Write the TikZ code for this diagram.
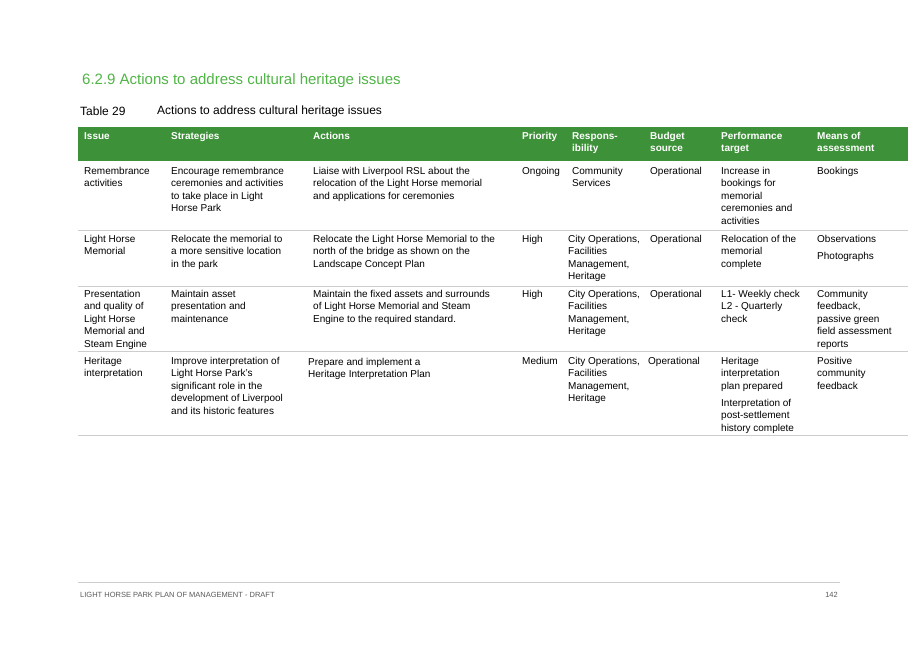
\documentclass[tikz,border=0pt]{standalone}
\usepackage{fontspec}
\setmainfont{Liberation Sans}
\definecolor{hgreen}{RGB}{61,145,56}
\definecolor{tgreen}{RGB}{80,180,70}
\definecolor{rule}{RGB}{205,205,205}
\begin{document}
\begin{tikzpicture}[x=1pt,y=-1pt,
  cell/.style={anchor=north west,inner sep=0pt,align=left,font=\fontsize{10}{12.5}\selectfont},
  head/.style={cell,text=white,font=\fontsize{10}{12.5}\selectfont\bfseries},
  sep/.style={draw=rule,line width=0.6pt}]
\useasboundingbox (0,0) rectangle (917,648);
\node[anchor=west,inner sep=0pt,text=tgreen,font=\fontsize{15}{18}\selectfont] (title) at (82,81) {6.2.9 Actions to address cultural heritage issues};
\node[anchor=west,inner sep=0pt,font=\fontsize{12}{14}\selectfont] (tnum) at (80,111) {Table 29};
\node[anchor=west,inner sep=0pt,font=\fontsize{12}{14}\selectfont] (tcap) at (157,111) {Actions to address cultural heritage issues};
\fill[hgreen] (78,127) rectangle (908,161);
\node[head] (h1) at (84,132) {Issue};
\node[head] (h2) at (171,132) {Strategies};
\node[head] (h3) at (313,132) {Actions};
\node[head] (h4) at (522,132) {Priority};
\node[head] (h5) at (572,132) {Respons-\\ibility};
\node[head] (h6) at (650,132) {Budget\\source};
\node[head] (h7) at (721,132) {Performance\\target};
\node[head] (h8) at (817,132) {Means of\\assessment};
% row 1
\node[cell] (a1) at (84,167) {Remembrance\\activities};
\node[cell] (a2) at (171,167) {Encourage remembrance\\ceremonies and activities\\to take place in Light\\Horse Park};
\node[cell] (a3) at (313,167) {Liaise with Liverpool RSL about the\\relocation of the Light Horse memorial\\and applications for ceremonies};
\node[cell] (a4) at (522,167) {Ongoing};
\node[cell] (a5) at (572,167) {Community\\Services};
\node[cell] (a6) at (650,167) {Operational};
\node[cell] (a7) at (721,167) {Increase in\\bookings for\\memorial\\ceremonies and\\activities};
\node[cell] (a8) at (817,167) {Bookings};
\draw[sep] (78,230) -- (908,230);
% row 2
\node[cell] (b1) at (84,235) {Light Horse\\Memorial};
\node[cell] (b2) at (171,235) {Relocate the memorial to\\a more sensitive location\\in the park};
\node[cell] (b3) at (313,235) {Relocate the Light Horse Memorial to the\\north of the bridge as shown on the\\Landscape Concept Plan};
\node[cell] (b4) at (522,235) {High};
\node[cell] (b5) at (568,235) {City Operations,\\Facilities\\Management,\\Heritage};
\node[cell] (b6) at (650,235) {Operational};
\node[cell] (b7) at (721,235) {Relocation of the\\memorial\\complete};
\node[cell] (b8) at (817,235) {Observations\\[4.5pt]Photographs};
\draw[sep] (78,286) -- (908,286);
% row 3
\node[cell] (c1) at (84,290) {Presentation\\and quality of\\Light Horse\\Memorial and\\Steam Engine};
\node[cell] (c2) at (171,290) {Maintain asset\\presentation and\\maintenance};
\node[cell] (c3) at (313,290) {Maintain the fixed assets and surrounds\\of Light Horse Memorial and Steam\\Engine to the required standard.};
\node[cell] (c4) at (522,290) {High};
\node[cell] (c5) at (568,290) {City Operations,\\Facilities\\Management,\\Heritage};
\node[cell] (c6) at (650,290) {Operational};
\node[cell] (c7) at (721,290) {L1- Weekly check\\L2 - Quarterly\\check};
\node[cell] (c8) at (817,290) {Community\\feedback,\\passive green\\field assessment\\reports};
\draw[sep] (78,351) -- (908,351);
% row 4
\node[cell] (d1) at (84,357) {Heritage\\interpretation};
\node[cell] (d2) at (171,357) {Improve interpretation of\\Light Horse Park’s\\significant role in the\\development of Liverpool\\and its historic features};
\node[cell] (d3) at (308,358) {Prepare and implement a\\Heritage Interpretation Plan};
\node[cell] (d4) at (522,357) {Medium};
\node[cell] (d5) at (568,357) {City Operations,\\Facilities\\Management,\\Heritage};
\node[cell] (d6) at (648,357) {Operational};
\node[cell] (d7) at (721,357) {Heritage\\interpretation\\plan prepared\\[4.5pt]Interpretation of\\post-settlement\\history complete};
\node[cell] (d8) at (817,357) {Positive\\community\\feedback};
\draw[sep] (78,435) -- (908,435);
% footer
\draw[draw=rule,line width=0.8pt] (78,582) -- (840,582);
\node[anchor=west,inner sep=0pt,text=black!65,font=\fontsize{7.5}{9}\selectfont] (foot) at (80,595) {LIGHT HORSE PARK PLAN OF MANAGEMENT - DRAFT};
\node[anchor=east,inner sep=0pt,text=black!65,font=\fontsize{7.5}{9}\selectfont] (pg) at (838,595) {142};
\end{tikzpicture}
\end{document}
